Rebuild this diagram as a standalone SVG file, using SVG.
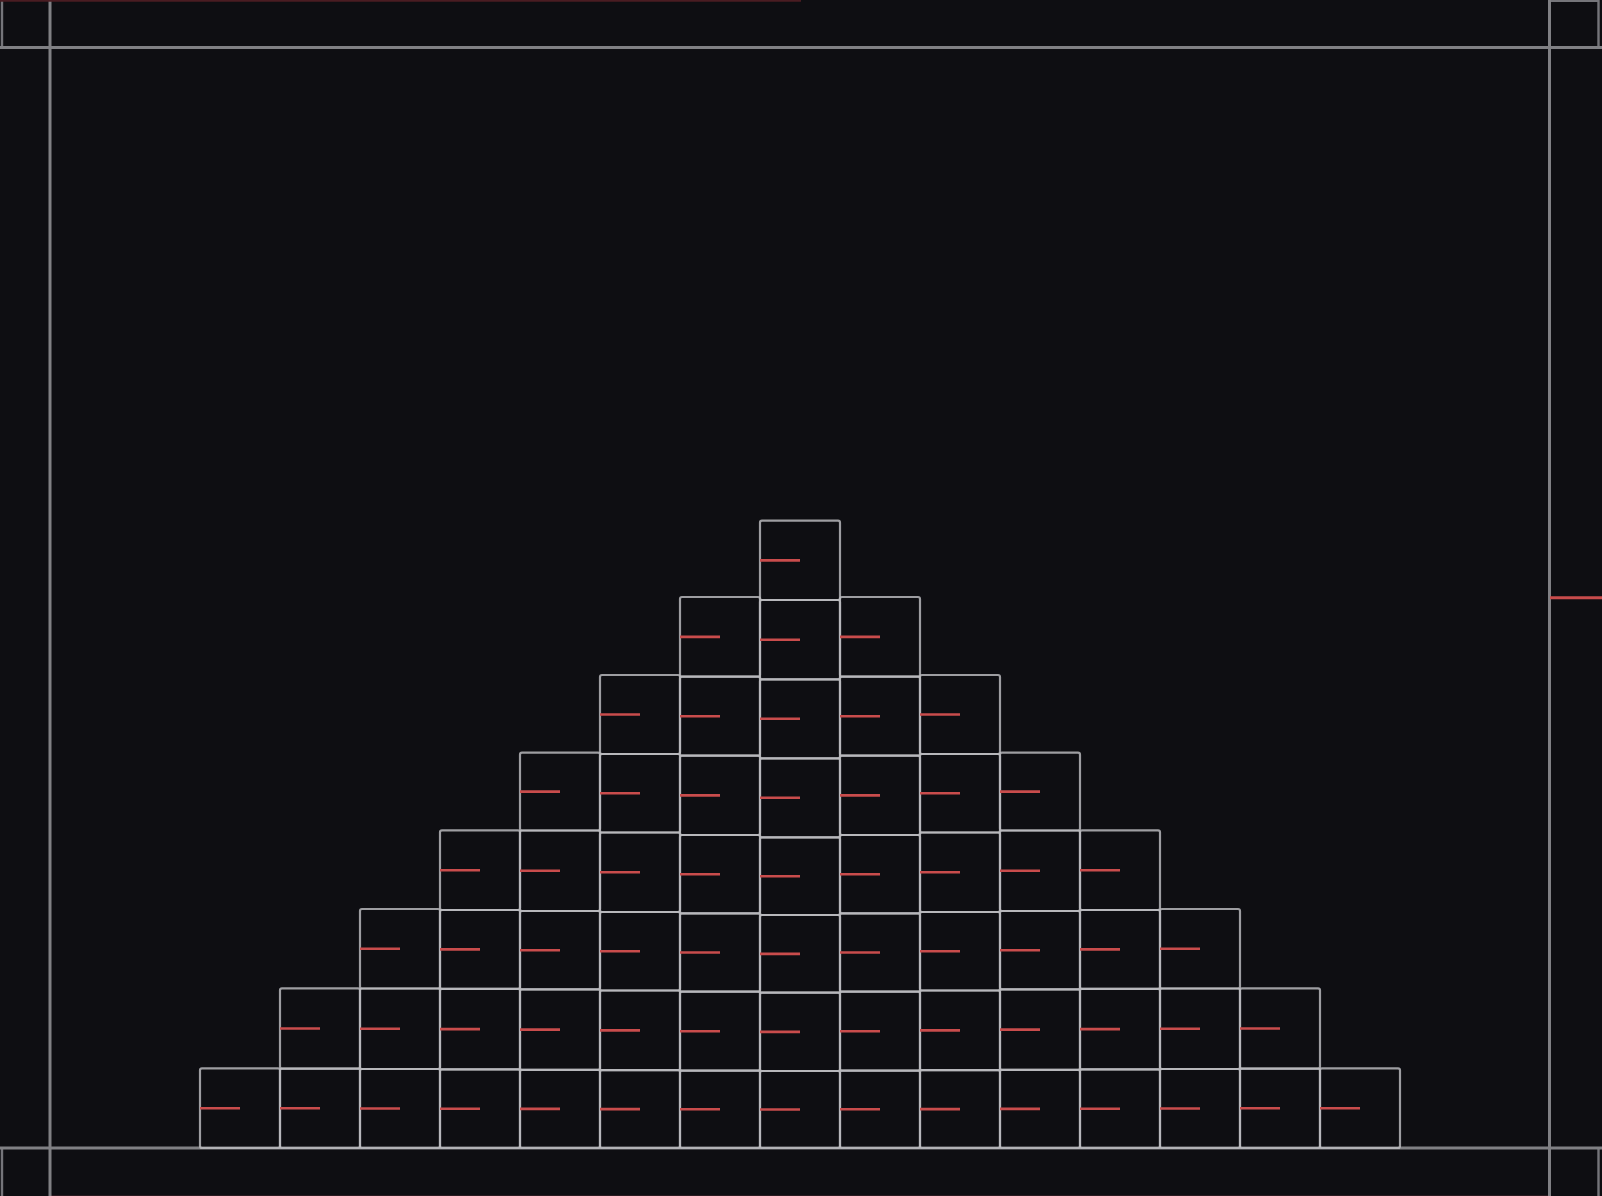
<svg xmlns="http://www.w3.org/2000/svg" width="1602" height="1196" viewBox="0 0 1602 1196">
<style>
.frame{fill:none;stroke:#808084;stroke-width:3}
.corner{fill:none;stroke:#75757a;stroke-width:2.4}
.box rect{fill:none;stroke:#bdbdc1;stroke-opacity:0.82;stroke-width:2.2}
.box line{stroke:#c94c4c;stroke-width:2.6}
</style>
<rect width="1602" height="1196" fill="#0e0e12"/>
<g id="frame">
<path class="corner" d="M2,0 V47.5 M2,1148 V1196 M1549.5,0.8 H1598.5 V47.5 M1598.5,1196 V1148"/>
<line x1="50" y1="1195.5" x2="1549" y2="1195.5" stroke="#2a1a20" stroke-width="1"/>
<line class="frame" x1="0" y1="47.5" x2="1602" y2="47.5"/>
<line class="frame" x1="0" y1="1148" x2="1602" y2="1148"/>
<line class="frame" x1="50" y1="0" x2="50" y2="1196"/>
<line class="frame" x1="1549.5" y1="0" x2="1549.5" y2="1196"/>
<line x1="0" y1="0.8" x2="801" y2="0.8" stroke="#4a1c22" stroke-width="1.8"/>
<line x1="1550" y1="597.7" x2="1602" y2="597.7" stroke="#c94c4c" stroke-width="3"/>
</g>
<g id="connectors"></g>
<!-- row 0 -->
<g id="box-0-0" class="box"><rect x="200" y="1068.3" width="80" height="79.7" rx="2"/><line x1="200" y1="1108.2" x2="240" y2="1108.2"/></g>
<g id="box-0-1" class="box"><rect x="280" y="1068.6" width="80" height="79.4" rx="2"/><line x1="280" y1="1108.3" x2="320" y2="1108.3"/></g>
<g id="box-0-2" class="box"><rect x="360" y="1069" width="80" height="79" rx="2"/><line x1="360" y1="1108.5" x2="400" y2="1108.5"/></g>
<g id="box-0-3" class="box"><rect x="440" y="1069.4" width="80" height="78.6" rx="2"/><line x1="440" y1="1108.7" x2="480" y2="1108.7"/></g>
<g id="box-0-4" class="box"><rect x="520" y="1069.8" width="80" height="78.2" rx="2"/><line x1="520" y1="1108.9" x2="560" y2="1108.9"/></g>
<g id="box-0-5" class="box"><rect x="600" y="1070.2" width="80" height="77.8" rx="2"/><line x1="600" y1="1109.1" x2="640" y2="1109.1"/></g>
<g id="box-0-6" class="box"><rect x="680" y="1070.6" width="80" height="77.4" rx="2"/><line x1="680" y1="1109.3" x2="720" y2="1109.3"/></g>
<g id="box-0-7" class="box"><rect x="760" y="1071" width="80" height="77" rx="2"/><line x1="760" y1="1109.5" x2="800" y2="1109.5"/></g>
<g id="box-0-8" class="box"><rect x="840" y="1070.6" width="80" height="77.4" rx="2"/><line x1="840" y1="1109.3" x2="880" y2="1109.3"/></g>
<g id="box-0-9" class="box"><rect x="920" y="1070.2" width="80" height="77.8" rx="2"/><line x1="920" y1="1109.1" x2="960" y2="1109.1"/></g>
<g id="box-0-10" class="box"><rect x="1000" y="1069.8" width="80" height="78.2" rx="2"/><line x1="1000" y1="1108.9" x2="1040" y2="1108.9"/></g>
<g id="box-0-11" class="box"><rect x="1080" y="1069.4" width="80" height="78.6" rx="2"/><line x1="1080" y1="1108.7" x2="1120" y2="1108.7"/></g>
<g id="box-0-12" class="box"><rect x="1160" y="1069" width="80" height="79" rx="2"/><line x1="1160" y1="1108.5" x2="1200" y2="1108.5"/></g>
<g id="box-0-13" class="box"><rect x="1240" y="1068.6" width="80" height="79.4" rx="2"/><line x1="1240" y1="1108.3" x2="1280" y2="1108.3"/></g>
<g id="box-0-14" class="box"><rect x="1320" y="1068.3" width="80" height="79.7" rx="2"/><line x1="1320" y1="1108.2" x2="1360" y2="1108.2"/></g>
<!-- row 1 -->
<g id="box-1-1" class="box"><rect x="280" y="988.3" width="80" height="80.3" rx="2"/><line x1="280" y1="1028.5" x2="320" y2="1028.5"/></g>
<g id="box-1-2" class="box"><rect x="360" y="988.5" width="80" height="80.5" rx="2"/><line x1="360" y1="1028.8" x2="400" y2="1028.8"/></g>
<g id="box-1-3" class="box"><rect x="440" y="988.8" width="80" height="80.6" rx="2"/><line x1="440" y1="1029.1" x2="480" y2="1029.1"/></g>
<g id="box-1-4" class="box"><rect x="520" y="989.3" width="80" height="80.5" rx="2"/><line x1="520" y1="1029.6" x2="560" y2="1029.6"/></g>
<g id="box-1-5" class="box"><rect x="600" y="990.5" width="80" height="79.7" rx="2"/><line x1="600" y1="1030.4" x2="640" y2="1030.4"/></g>
<g id="box-1-6" class="box"><rect x="680" y="991.7" width="80" height="78.9" rx="2"/><line x1="680" y1="1031.2" x2="720" y2="1031.2"/></g>
<g id="box-1-7" class="box"><rect x="760" y="992.7" width="80" height="78.3" rx="2"/><line x1="760" y1="1031.9" x2="800" y2="1031.9"/></g>
<g id="box-1-8" class="box"><rect x="840" y="991.7" width="80" height="78.9" rx="2"/><line x1="840" y1="1031.2" x2="880" y2="1031.2"/></g>
<g id="box-1-9" class="box"><rect x="920" y="990.5" width="80" height="79.7" rx="2"/><line x1="920" y1="1030.4" x2="960" y2="1030.4"/></g>
<g id="box-1-10" class="box"><rect x="1000" y="989.3" width="80" height="80.5" rx="2"/><line x1="1000" y1="1029.6" x2="1040" y2="1029.6"/></g>
<g id="box-1-11" class="box"><rect x="1080" y="988.8" width="80" height="80.6" rx="2"/><line x1="1080" y1="1029.1" x2="1120" y2="1029.1"/></g>
<g id="box-1-12" class="box"><rect x="1160" y="988.5" width="80" height="80.5" rx="2"/><line x1="1160" y1="1028.8" x2="1200" y2="1028.8"/></g>
<g id="box-1-13" class="box"><rect x="1240" y="988.3" width="80" height="80.3" rx="2"/><line x1="1240" y1="1028.5" x2="1280" y2="1028.5"/></g>
<!-- row 2 -->
<g id="box-2-2" class="box"><rect x="360" y="909" width="80" height="79.5" rx="2"/><line x1="360" y1="948.8" x2="400" y2="948.8"/></g>
<g id="box-2-3" class="box"><rect x="440" y="910" width="80" height="78.8" rx="2"/><line x1="440" y1="949.4" x2="480" y2="949.4"/></g>
<g id="box-2-4" class="box"><rect x="520" y="911" width="80" height="78.3" rx="2"/><line x1="520" y1="950.2" x2="560" y2="950.2"/></g>
<g id="box-2-5" class="box"><rect x="600" y="912" width="80" height="78.5" rx="2"/><line x1="600" y1="951.3" x2="640" y2="951.3"/></g>
<g id="box-2-6" class="box"><rect x="680" y="913.3" width="80" height="78.4" rx="2"/><line x1="680" y1="952.5" x2="720" y2="952.5"/></g>
<g id="box-2-7" class="box"><rect x="760" y="915" width="80" height="77.7" rx="2"/><line x1="760" y1="953.9" x2="800" y2="953.9"/></g>
<g id="box-2-8" class="box"><rect x="840" y="913.3" width="80" height="78.4" rx="2"/><line x1="840" y1="952.5" x2="880" y2="952.5"/></g>
<g id="box-2-9" class="box"><rect x="920" y="912" width="80" height="78.5" rx="2"/><line x1="920" y1="951.3" x2="960" y2="951.3"/></g>
<g id="box-2-10" class="box"><rect x="1000" y="911" width="80" height="78.3" rx="2"/><line x1="1000" y1="950.2" x2="1040" y2="950.2"/></g>
<g id="box-2-11" class="box"><rect x="1080" y="910" width="80" height="78.8" rx="2"/><line x1="1080" y1="949.4" x2="1120" y2="949.4"/></g>
<g id="box-2-12" class="box"><rect x="1160" y="909" width="80" height="79.5" rx="2"/><line x1="1160" y1="948.8" x2="1200" y2="948.8"/></g>
<!-- row 3 -->
<g id="box-3-3" class="box"><rect x="440" y="830.3" width="80" height="79.7" rx="2"/><line x1="440" y1="870.2" x2="480" y2="870.2"/></g>
<g id="box-3-4" class="box"><rect x="520" y="830.5" width="80" height="80.5" rx="2"/><line x1="520" y1="870.8" x2="560" y2="870.8"/></g>
<g id="box-3-5" class="box"><rect x="600" y="832.5" width="80" height="79.5" rx="2"/><line x1="600" y1="872.3" x2="640" y2="872.3"/></g>
<g id="box-3-6" class="box"><rect x="680" y="835" width="80" height="78.3" rx="2"/><line x1="680" y1="874.2" x2="720" y2="874.2"/></g>
<g id="box-3-7" class="box"><rect x="760" y="837.3" width="80" height="77.7" rx="2"/><line x1="760" y1="876.2" x2="800" y2="876.2"/></g>
<g id="box-3-8" class="box"><rect x="840" y="835" width="80" height="78.3" rx="2"/><line x1="840" y1="874.2" x2="880" y2="874.2"/></g>
<g id="box-3-9" class="box"><rect x="920" y="832.5" width="80" height="79.5" rx="2"/><line x1="920" y1="872.3" x2="960" y2="872.3"/></g>
<g id="box-3-10" class="box"><rect x="1000" y="830.5" width="80" height="80.5" rx="2"/><line x1="1000" y1="870.8" x2="1040" y2="870.8"/></g>
<g id="box-3-11" class="box"><rect x="1080" y="830.3" width="80" height="79.7" rx="2"/><line x1="1080" y1="870.2" x2="1120" y2="870.2"/></g>
<!-- row 4 -->
<g id="box-4-4" class="box"><rect x="520" y="752.7" width="80" height="77.8" rx="2"/><line x1="520" y1="791.6" x2="560" y2="791.6"/></g>
<g id="box-4-5" class="box"><rect x="600" y="754" width="80" height="78.5" rx="2"/><line x1="600" y1="793.3" x2="640" y2="793.3"/></g>
<g id="box-4-6" class="box"><rect x="680" y="755.7" width="80" height="79.3" rx="2"/><line x1="680" y1="795.4" x2="720" y2="795.4"/></g>
<g id="box-4-7" class="box"><rect x="760" y="758.3" width="80" height="79" rx="2"/><line x1="760" y1="797.8" x2="800" y2="797.8"/></g>
<g id="box-4-8" class="box"><rect x="840" y="755.7" width="80" height="79.3" rx="2"/><line x1="840" y1="795.4" x2="880" y2="795.4"/></g>
<g id="box-4-9" class="box"><rect x="920" y="754" width="80" height="78.5" rx="2"/><line x1="920" y1="793.3" x2="960" y2="793.3"/></g>
<g id="box-4-10" class="box"><rect x="1000" y="752.7" width="80" height="77.8" rx="2"/><line x1="1000" y1="791.6" x2="1040" y2="791.6"/></g>
<!-- row 5 -->
<g id="box-5-5" class="box"><rect x="600" y="675" width="80" height="79" rx="2"/><line x1="600" y1="714.5" x2="640" y2="714.5"/></g>
<g id="box-5-6" class="box"><rect x="680" y="676.7" width="80" height="79" rx="2"/><line x1="680" y1="716.2" x2="720" y2="716.2"/></g>
<g id="box-5-7" class="box"><rect x="760" y="679.3" width="80" height="79" rx="2"/><line x1="760" y1="718.8" x2="800" y2="718.8"/></g>
<g id="box-5-8" class="box"><rect x="840" y="676.7" width="80" height="79" rx="2"/><line x1="840" y1="716.2" x2="880" y2="716.2"/></g>
<g id="box-5-9" class="box"><rect x="920" y="675" width="80" height="79" rx="2"/><line x1="920" y1="714.5" x2="960" y2="714.5"/></g>
<!-- row 6 -->
<g id="box-6-6" class="box"><rect x="680" y="597" width="80" height="79.7" rx="2"/><line x1="680" y1="636.9" x2="720" y2="636.9"/></g>
<g id="box-6-7" class="box"><rect x="760" y="600" width="80" height="79.3" rx="2"/><line x1="760" y1="639.7" x2="800" y2="639.7"/></g>
<g id="box-6-8" class="box"><rect x="840" y="597" width="80" height="79.7" rx="2"/><line x1="840" y1="636.9" x2="880" y2="636.9"/></g>
<!-- row 7 -->
<g id="box-7-7" class="box"><rect x="760" y="520.7" width="80" height="79.3" rx="2"/><line x1="760" y1="560.4" x2="800" y2="560.4"/></g>
</svg>
